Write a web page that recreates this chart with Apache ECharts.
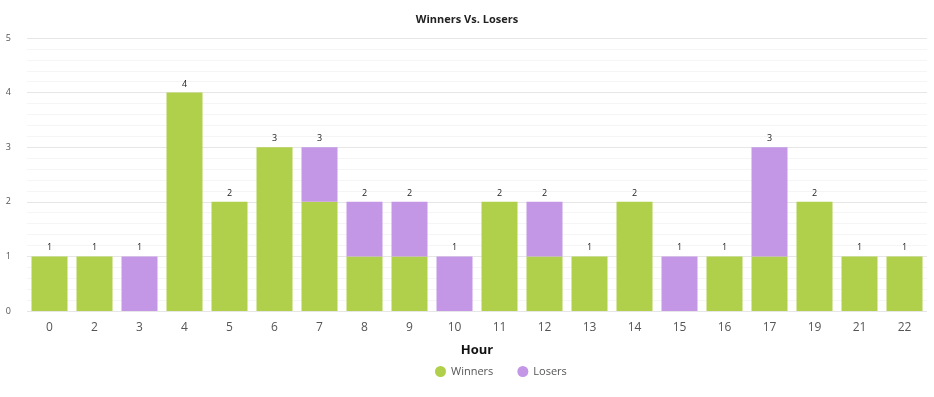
<!DOCTYPE html>
<html>
<head>
<meta charset="utf-8">
<script src="https://cdn.jsdelivr.net/npm/echarts@6/dist/echarts.min.js"></script>
<style>
  html, body { margin: 0; padding: 0; background: #fff; }
  #chart { width: 934px; height: 397px; }
</style>
</head>
<body>
<div id="chart"></div>
<script>
const hours = ['0', '2', '3', '4', '5', '6', '7', '8', '9', '10', '11', '12', '13', '14', '15', '16', '17', '19', '21', '22'];
const winners = [1, 1, 0, 4, 2, 3, 2, 1, 1, 0, 2, 1, 1, 2, 0, 1, 1, 2, 1, 1];
const losers = [0, 0, 1, 0, 0, 0, 1, 1, 1, 1, 0, 1, 0, 0, 1, 0, 2, 0, 0, 0];
const totals = hours.map((h, i) => winners[i] + losers[i]);

const chart = echarts.init(document.getElementById('chart'));
chart.setOption({
  animation: false,
  color: ['#b0cf4a', '#c397e5'],
  title: {
    text: 'Winners Vs. Losers',
    left: 'center',
    top: 9,
    textStyle: { fontSize: 11, fontWeight: 'bold', color: '#222', fontFamily: 'Open Sans' }
  },
  legend: {
    data: ['Winners', 'Losers'],
    bottom: 15,
    left: 430,
    icon: 'circle',
    itemWidth: 11,
    itemHeight: 11,
    itemGap: 24,
    textStyle: { fontSize: 11, color: '#555', fontFamily: 'Open Sans' }
  },
  grid: { left: 27, right: 7, top: 38, bottom: 86 },
  xAxis: {
    type: 'category',
    data: hours,
    name: 'Hour',
    nameLocation: 'middle',
    nameGap: 33,
    nameTextStyle: { fontSize: 13, fontWeight: 'bold', color: '#111', fontFamily: 'Open Sans' },
    axisLine: { show: false },
    axisTick: { show: false },
    axisLabel: { fontSize: 12, color: '#555', margin: 11, fontFamily: 'Open Sans' }
  },
  yAxis: {
    type: 'value',
    min: 0,
    max: 5,
    interval: 1,
    axisLabel: { fontSize: 9, color: '#555', margin: 16, fontFamily: 'Open Sans' },
    splitLine: { lineStyle: { color: '#e6e6e6' } },
    minorTick: { show: false, splitNumber: 5 },
    minorSplitLine: { show: true, lineStyle: { color: '#f5f5f5' } }
  },
  series: [
    {
      name: 'Winners',
      type: 'bar',
      stack: 'all',
      data: winners,
      barCategoryGap: '20%',
      itemStyle: { color: '#b0cf4a' }
    },
    {
      name: 'Losers',
      type: 'bar',
      stack: 'all',
      data: losers,
      itemStyle: { color: '#c397e5' }
    },
    {
      name: 'Total',
      type: 'bar',
      stack: 'all',
      data: totals.map(() => 0),
      itemStyle: { color: 'transparent' },
      label: {
        show: true,
        position: 'top',
        distance: 4,
        fontSize: 9,
        color: '#222',
        fontFamily: 'Open Sans',
        formatter: p => totals[p.dataIndex]
      }
    }
  ]
});
</script>
</body>
</html>
